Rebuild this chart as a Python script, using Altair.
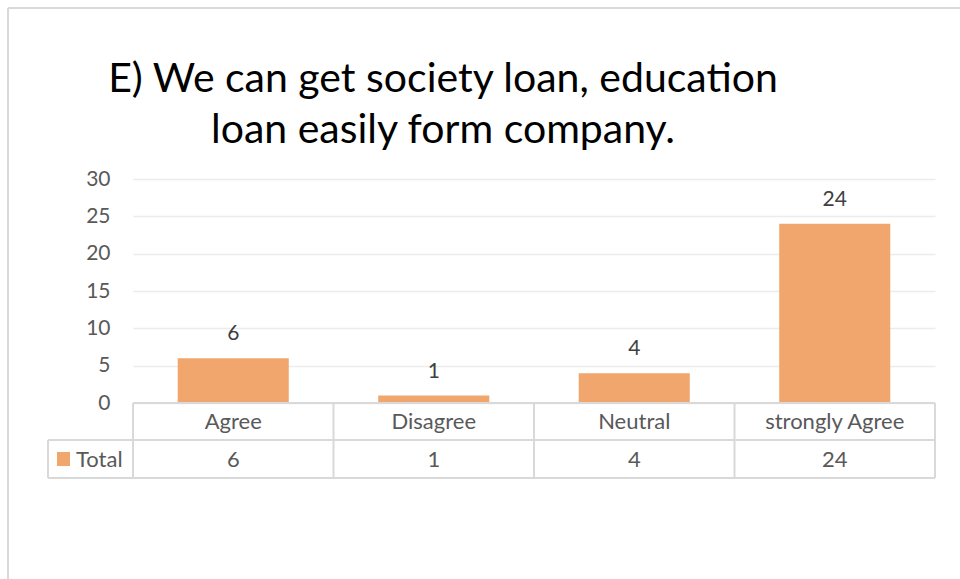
import altair as alt
import pandas as pd

categories = ["Agree", "Disagree", "Neutral", "strongly Agree"]
totals = [6, 1, 4, 24]
y_ticks = [0, 5, 10, 15, 20, 25, 30]
series_name = "Total"
title_lines = ["E) We can get society loan, education", "loan easily form company."]

df = pd.DataFrame({"category": categories, "value": totals})

W, H = 802, 224
FONT = "Lato"
LABEL_C = "#595959"
LINE_C = "#d9d9d9"
BAR_C = "#F1A66E"
one = pd.DataFrame({"a": [0]})

x_enc = alt.X("category:N", sort=categories, axis=None,
              scale=alt.Scale(paddingInner=0.446, paddingOuter=0.223))
y_axis = alt.Axis(values=y_ticks, tickCount=7, grid=True, gridColor="#ececec", gridWidth=1.5,
                  domain=False, ticks=False, labelPadding=23, labelOverlap=False,
                  labelFontSize=21, labelColor=LABEL_C, labelFont=FONT, title=None)
y_enc = alt.Y("value:Q", scale=alt.Scale(domain=[0, 30], nice=False), axis=y_axis)

base = alt.Chart(df)

bars = base.mark_bar(color=BAR_C).encode(x=x_enc, y=y_enc)

labels = base.mark_text(baseline="bottom", dy=-14, fontSize=21, color="#404040", font=FONT).encode(
    x=x_enc, y=y_enc, text="value:Q"
)

cat_row = base.mark_text(fontSize=22, color=LABEL_C, font=FONT, baseline="middle").encode(
    x=x_enc, y=alt.value(243), text="category:N"
)
val_row = base.mark_text(fontSize=22, color=LABEL_C, font=FONT, baseline="middle").encode(
    x=x_enc, y=alt.value(281), text="value:Q"
)


def hrule(x1, x2, y):
    return alt.Chart(one).mark_rule(color=LINE_C, strokeWidth=2).encode(
        x=alt.value(x1), x2=alt.value(x2), y=alt.value(y))


def vrule(x, y1, y2):
    return alt.Chart(one).mark_rule(color=LINE_C, strokeWidth=2).encode(
        x=alt.value(x), y=alt.value(y1), y2=alt.value(y2))


rules = [hrule(0, W, 224), hrule(-85, W, 261), hrule(-85, W, 299),
         vrule(-85, 261, 299)] + [vrule(W * i / 4, 224, 299) for i in range(5)]

# outer frame (top and left edges)
rules += [hrule(-125, W + 40, -171), vrule(-125, -171, H + 200)]

legend_sq = alt.Chart(one).mark_rect(color=BAR_C).encode(
    x=alt.value(-76), x2=alt.value(-63), y=alt.value(273), y2=alt.value(287)
)
legend_txt = alt.Chart(one).mark_text(
    align="left", baseline="middle", fontSize=22, color=LABEL_C, font=FONT
).encode(x=alt.value(-57), y=alt.value(281), text=alt.value(series_name))

title1 = alt.Chart(one).mark_text(
    align="center", baseline="alphabetic", fontSize=41, color="#000000", font=FONT
).encode(x=alt.value(310), y=alt.value(-87), text=alt.value(title_lines[0]))
title2 = alt.Chart(one).mark_text(
    align="center", baseline="alphabetic", fontSize=41, color="#000000", font=FONT
).encode(x=alt.value(310), y=alt.value(-36), text=alt.value(title_lines[1]))

chart = alt.layer(
    bars, labels, *rules, cat_row, val_row, legend_sq, legend_txt, title1, title2
).properties(
    width=W, height=H,
    padding={"left": 133, "top": 179, "right": 25, "bottom": 176},
    autosize=alt.AutoSizeParams(type="none"),
).configure_view(stroke=None)

chart.save("out.html", embed_options={"renderer": "svg", "actions": False})
